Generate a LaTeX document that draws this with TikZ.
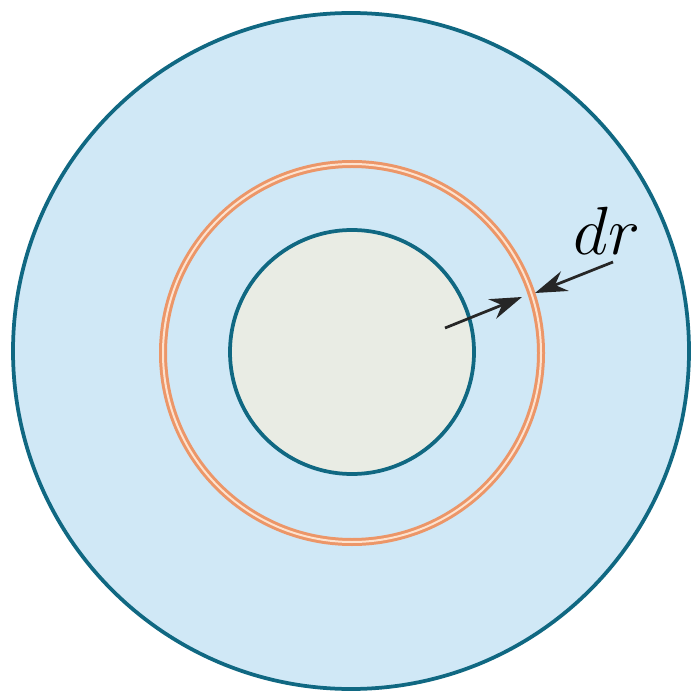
\documentclass[tikz,border=0pt]{standalone}
\usepackage{amsmath,amssymb}
\usetikzlibrary{arrows.meta, positioning}
\definecolor{seablue}{RGB}{208,232,246}
\definecolor{rimteal}{RGB}{16,104,130}
\definecolor{coreGray}{RGB}{233,236,228}
\definecolor{shellOrange}{RGB}{236,150,104}
\definecolor{shellLight}{RGB}{253,226,206}

\begin{document}
\begin{tikzpicture}[x=0.02cm, y=0.02cm, >={Stealth[length=0.64cm, width=0.42cm]},
    rim/.style={draw=rimteal, line width=0.075cm},
    shell/.style={draw=shellOrange, line width=0.16cm},
    gap/.style={draw=shellLight, line width=0.04cm},
    marker/.style={->, line width=0.055cm, black!85}]
      \useasboundingbox (0,0) rectangle (692,690);
      \fill[seablue] (351,339) circle (338);
      \draw[rim] (351,339) circle (338);
      \draw[shell] (352,337) circle (189);
      \draw[gap] (352,337) circle (189);
      \fill[coreGray] (352,338) circle (122);
      \draw[rim] (352,338) circle (122);
      \coordinate (a1) at (445,362);
      \coordinate (a2) at (522,393);
      \coordinate (b1) at (613,428);
      \coordinate (b2) at (535,397);
      \draw[marker] (a1)--(a2);
      \draw[marker] (b1)--(b2);
      \node[scale=1.56] (dr) at (607,459) {\fontsize{24.88}{30}\selectfont $dr$};
    \end{tikzpicture}
\end{document}
